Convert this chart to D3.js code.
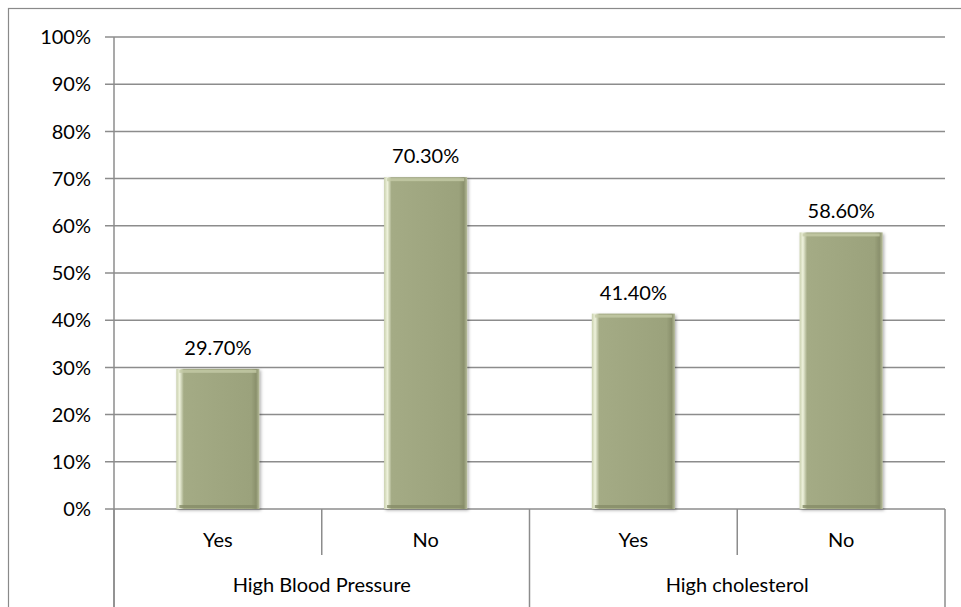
<!DOCTYPE html>
<html>
<head>
<meta charset="utf-8">
<script src="https://cdn.jsdelivr.net/npm/d3@7"></script>
<style>
  body { margin: 0; background: #fff; }
  text { font-family: "Lato", "DejaVu Sans", sans-serif; fill: #000; }
</style>
</head>
<body>
<div id="chart"></div>
<script>
// chart data
const groups = ["High Blood Pressure", "High cholesterol"];
const answers = ["Yes", "No"];
const values = [29.7, 70.3, 41.4, 58.6];
const yTicks = [0, 10, 20, 30, 40, 50, 60, 70, 80, 90, 100];

const width = 961, height = 607;
const margin = {top: 37, right: 16, bottom: 98, left: 114};
const fontSize = 20;

const svg = d3.select("#chart").append("svg")
    .attr("width", width)
    .attr("height", height);

// outer frame
svg.append("rect")
    .attr("x", 8.5).attr("y", 8.5)
    .attr("width", width + 20).attr("height", height + 20)
    .attr("fill", "none")
    .attr("stroke", "#8a8a8a")
    .attr("stroke-width", 1.2);

const cats = [];
groups.forEach(g => answers.forEach(a => cats.push(g + "|" + a)));

const x = d3.scaleBand()
    .domain(cats)
    .range([margin.left, width - margin.right])
    .paddingInner(0.6)
    .paddingOuter(0.3);

const y = d3.scaleLinear()
    .domain([0, 100])
    .range([height - margin.bottom, margin.top]);

const step = x.step();
const x0 = margin.left, x1 = width - margin.right;

// gridlines + ticks
svg.append("g")
    .selectAll("line")
    .data(yTicks)
    .join("line")
    .attr("x1", x0 - 9).attr("x2", x1)
    .attr("y1", d => y(d)).attr("y2", d => y(d))
    .attr("stroke", "#8c8c8c")
    .attr("stroke-width", 1.5);

// y axis line
svg.append("line")
    .attr("x1", x0).attr("x2", x0)
    .attr("y1", y(100)).attr("y2", height)
    .attr("stroke", "#8c8c8c")
    .attr("stroke-width", 1.5);

svg.append("g")
    .selectAll("text")
    .data(yTicks)
    .join("text")
    .attr("x", x0 - 23)
    .attr("y", d => y(d))
    .attr("dy", "0.36em")
    .attr("text-anchor", "end")
    .attr("font-size", fontSize)
    .text(d => d + "%");

// bar gradients (bevel look)
const defs = svg.append("defs");
const grad = defs.append("linearGradient").attr("id", "barGrad")
    .attr("x1", "0").attr("x2", "1").attr("y1", "0").attr("y2", "0");
grad.append("stop").attr("offset", "0").attr("stop-color", "#c9d0ad");
grad.append("stop").attr("offset", "0.04").attr("stop-color", "#eef2dc");
grad.append("stop").attr("offset", "0.09").attr("stop-color", "#a4ab85");
grad.append("stop").attr("offset", "0.9").attr("stop-color", "#9ba27c");
grad.append("stop").attr("offset", "0.96").attr("stop-color", "#8a906c");
grad.append("stop").attr("offset", "1").attr("stop-color", "#b6bc9a");

const filt = defs.append("filter").attr("id", "shadow")
    .attr("x", "-10%").attr("y", "-10%").attr("width", "130%").attr("height", "130%");
filt.append("feDropShadow")
    .attr("dx", 1.5).attr("dy", 1.5).attr("stdDeviation", 1.5)
    .attr("flood-color", "#000").attr("flood-opacity", 0.3);

const bars = svg.append("g");
bars.selectAll("rect.bar")
    .data(values)
    .join("rect")
    .attr("class", "bar")
    .attr("x", (d, i) => x(cats[i]))
    .attr("y", d => y(d))
    .attr("width", x.bandwidth())
    .attr("height", d => y(0) - y(d))
    .attr("fill", "url(#barGrad)")
    .attr("filter", "url(#shadow)");

// top highlight and bottom dark edge
bars.selectAll("rect.top")
    .data(values)
    .join("rect")
    .attr("class", "top")
    .attr("x", (d, i) => x(cats[i]) + 3)
    .attr("y", d => y(d) + 1)
    .attr("width", x.bandwidth() - 6)
    .attr("height", 3)
    .attr("fill", "#c4caa6")
    .attr("opacity", 0.8);
bars.selectAll("rect.bot")
    .data(values)
    .join("rect")
    .attr("class", "bot")
    .attr("x", (d, i) => x(cats[i]) + 3)
    .attr("y", d => y(0) - 4)
    .attr("width", x.bandwidth() - 6)
    .attr("height", 3)
    .attr("fill", "#868c68")
    .attr("opacity", 0.8);

// value labels
svg.append("g")
    .selectAll("text")
    .data(values)
    .join("text")
    .attr("x", (d, i) => x(cats[i]) + x.bandwidth() / 2)
    .attr("y", d => y(d) - 14)
    .attr("text-anchor", "middle")
    .attr("font-size", fontSize)
    .text(d => d.toFixed(2) + "%");

// category axis: inner separators
const axisG = svg.append("g");
cats.forEach((c, i) => {
  const left = x0 + i * step;
  axisG.append("line")
      .attr("x1", left).attr("x2", left)
      .attr("y1", y(0)).attr("y2", i % 2 === 0 ? height : y(0) + 46)
      .attr("stroke", "#8c8c8c").attr("stroke-width", 1.5);
  axisG.append("text")
      .attr("x", left + step / 2)
      .attr("y", y(0) + 38)
      .attr("text-anchor", "middle")
      .attr("font-size", fontSize)
      .text(c.split("|")[1]);
});
axisG.append("line")
    .attr("x1", x1).attr("x2", x1)
    .attr("y1", y(0)).attr("y2", height)
    .attr("stroke", "#8c8c8c").attr("stroke-width", 1.5);

groups.forEach((g, i) => {
  axisG.append("text")
      .attr("x", x0 + step * (2 * i + 1))
      .attr("y", y(0) + 83)
      .attr("text-anchor", "middle")
      .attr("font-size", fontSize)
      .text(g);
});
</script>
</body>
</html>
